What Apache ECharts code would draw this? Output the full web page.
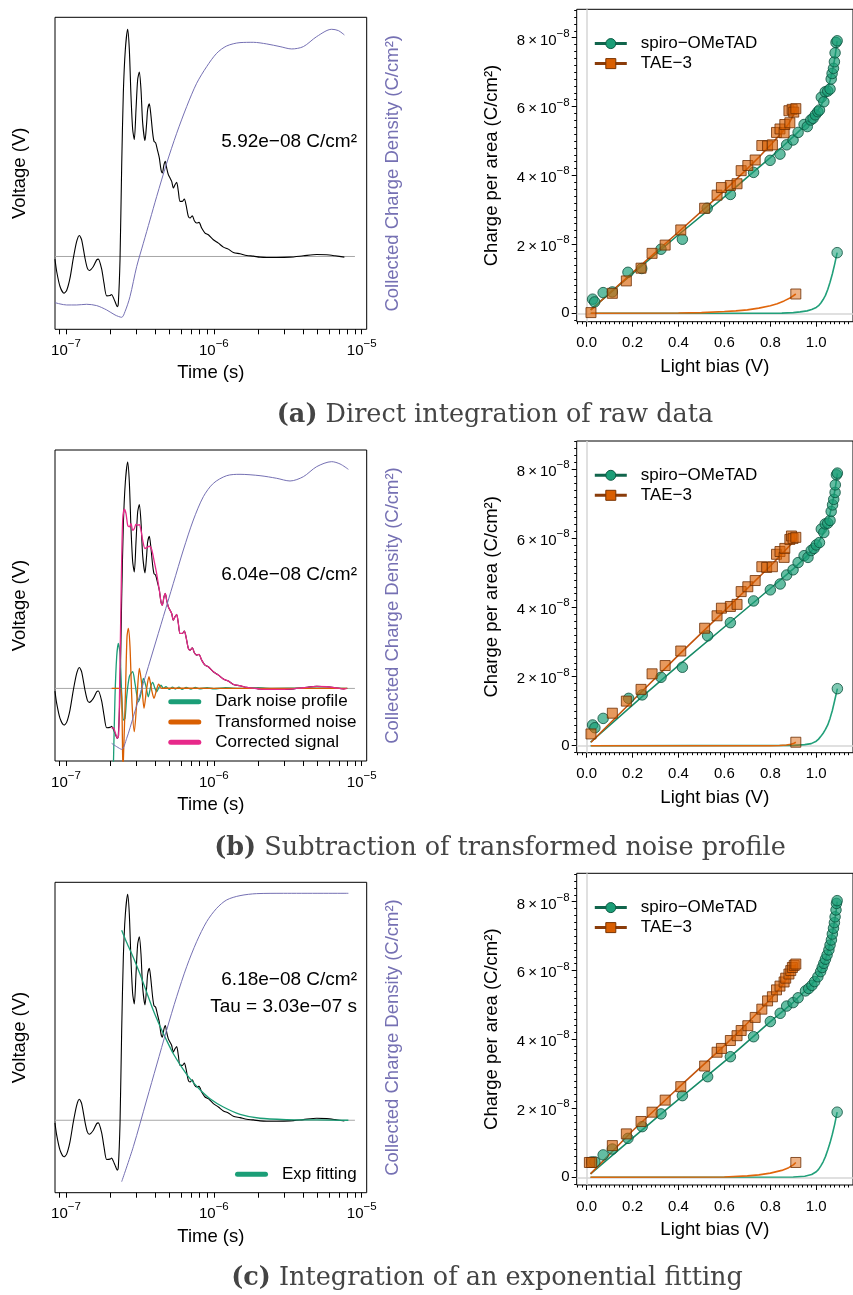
<!DOCTYPE html>
<html>
<head>
<meta charset="utf-8">
<script src="https://cdn.jsdelivr.net/npm/echarts@6.0.0/dist/echarts.min.js"></script>
<style>
  html, body { margin: 0; padding: 0; background: #fff; overflow: hidden; }
  #chart { width: 853px; height: 1295px; }
</style>
</head>
<body>
<div id="chart"></div>
<script>
// ---------- transient traces (time in s, voltage in V) ----------
const rawTrace = [
  [8.42e-8,-0.0008],[8.65e-8,-0.0045],[9.11e-8,-0.0090],[9.69e-8,-0.0110],[1.01e-7,-0.0102],
  [1.064e-7,-0.0065],[1.121e-7,-0.0005],[1.181e-7,0.0045],[1.231e-7,0.0063],[1.276e-7,0.0050],
  [1.344e-7,-0.0005],[1.394e-7,-0.0035],[1.438e-7,-0.0042],[1.531e-7,-0.0030],[1.612e-7,-0.0010],
  [1.654e-7,-0.0008],[1.743e-7,-0.0038],[1.807e-7,-0.0080],[1.884e-7,-0.0118],[1.984e-7,-0.0117],
  [2.036e-7,-0.0114],[2.090e-7,-0.0123],[2.145e-7,-0.0135],[2.224e-7,-0.0150],[2.259e-7,-0.0140],
  [2.319e-7,-0.0010],[2.380e-7,0.0270],[2.442e-7,0.0490],[2.520e-7,0.0620],[2.613e-7,0.0680],
  [2.681e-7,0.0620],[2.752e-7,0.0480],[2.825e-7,0.0380],[2.898e-7,0.0350],[2.975e-7,0.0440],
  [3.053e-7,0.0530],[3.133e-7,0.0552],[3.215e-7,0.0500],[3.300e-7,0.0400],[3.422e-7,0.0347],
  [3.512e-7,0.0400],[3.567e-7,0.0440],[3.661e-7,0.0457],[3.738e-7,0.0430],[3.856e-7,0.0370],
  [3.936e-7,0.0345],[4.040e-7,0.0340],[4.147e-7,0.0320],[4.277e-7,0.0295],[4.390e-7,0.0260],
  [4.482e-7,0.0250],[4.601e-7,0.0275],[4.697e-7,0.0285],[4.796e-7,0.0265],[4.922e-7,0.0245],
  [5.052e-7,0.0235],[5.185e-7,0.0225],[5.321e-7,0.0205],[5.461e-7,0.0215],[5.605e-7,0.0222],
  [5.753e-7,0.0195],[5.903e-7,0.0165],[6.122e-7,0.0165],[6.315e-7,0.0172],[6.481e-7,0.0155],
  [6.722e-7,0.0120],[6.899e-7,0.0115],[7.154e-7,0.0122],[7.380e-7,0.0107],[7.652e-7,0.0100],
  [7.937e-7,0.0102],[8.270e-7,0.0085],[8.714e-7,0.0070],[9.180e-7,0.0065],[9.923e-7,0.0050],
  [1.073e-6,0.0040],[1.160e-6,0.0028],[1.253e-6,0.0022],[1.355e-6,0.0012],[1.503e-6,0.0008],
  [1.668e-6,0.0003],[1.850e-6,0.0001],[2.053e-6,-0.0002],[2.277e-6,-0.0003],[2.661e-6,-0.0003],
  [3.275e-6,-0.0002],[4.031e-6,0.0002],[4.961e-6,0.0006],[5.800e-6,0.0005],[6.600e-6,0.0002],
  [7.632e-6,-0.0002]
];

// early part of the noise-corrected signal; later it follows the raw trace
const correctedEarly = [
  [2.036e-7,-0.0120],[2.090e-7,-0.0118],[2.145e-7,-0.0130],[2.224e-7,-0.0150],[2.271e-7,-0.0140],
  [2.319e-7,0.0075],[2.367e-7,0.0325],[2.417e-7,0.0505],[2.481e-7,0.0538],[2.546e-7,0.0525],
  [2.613e-7,0.0490],[2.681e-7,0.0485],[2.752e-7,0.0495],[2.825e-7,0.0475],[2.898e-7,0.0480],
  [2.975e-7,0.0493],[3.053e-7,0.0490],[3.133e-7,0.0492],[3.215e-7,0.0475],[3.300e-7,0.0445],
  [3.422e-7,0.0420],[3.567e-7,0.0425],[3.661e-7,0.0427],[3.797e-7,0.0417],[3.936e-7,0.0385],
  [4.103e-7,0.0345]
];
const correctedTail = [[7.916e-6,0.0000]];

const darkNoise = [
  [2.090e-7,-0.0240],[2.145e-7,-0.0025],[2.202e-7,0.0095],[2.259e-7,0.0135],[2.319e-7,0.0105],
  [2.380e-7,-0.0015],[2.442e-7,-0.0095],[2.507e-7,-0.0090],[2.573e-7,-0.0025],[2.681e-7,0.0035],
  [2.825e-7,0.0050],[2.929e-7,0.0015],[3.086e-7,-0.0040],[3.215e-7,-0.0015],[3.334e-7,0.0030],
  [3.458e-7,0.0010],[3.605e-7,-0.0025],[3.738e-7,0.0005],[3.856e-7,0.0018],[3.998e-7,0.0000],
  [4.103e-7,-0.0010],[4.256e-7,0.0003],[4.390e-7,0.0010],[4.553e-7,0.0000],[4.75e-7,0.0005],
  [5.0e-7,-0.0003],[5.25e-7,0.0004],[5.5e-7,-0.0002],[5.8e-7,0.0004],[6.1e-7,-0.0003],
  [6.5e-7,0.0003],[7.0e-7,-0.0002],[7.5e-7,0.0003],[8.0e-7,-0.0001],[9.0e-7,0.0002],
  [1.0e-6,-0.0001],[1.2e-6,0.0002],[1.5e-6,0.0000],[2.0e-6,0.0002],[2.5e-6,0.0000],
  [4.0e-6,0.0001],[8.0e-6,0.0000]
];

const transformedNoise = [
  [2.036e-7,0],[2.343e-7,0],[2.392e-7,-0.0075],[2.430e-7,-0.0250],[2.455e-7,-0.0250],
  [2.520e-7,-0.0025],[2.586e-7,0.0155],[2.640e-7,0.0180],[2.709e-7,0.0125],[2.796e-7,-0.0045],
  [2.898e-7,-0.0130],[3.006e-7,-0.0045],[3.133e-7,0.0060],[3.248e-7,0.0015],[3.370e-7,-0.0060],
  [3.512e-7,0.0000],[3.639e-7,0.0035],[3.797e-7,-0.0005],[3.936e-7,-0.0030],[4.103e-7,-0.0003],
  [4.233e-7,0.0013],[4.436e-7,0.0000],[4.796e-7,0.0001],[1.0e-6,0],[8.0e-6,0]
];

const expFit = [
  [2.380e-7,0.0572],[2.573e-7,0.0535],[2.854e-7,0.0490],[3.166e-7,0.0440],[3.512e-7,0.0385],
  [3.897e-7,0.0330],[4.323e-7,0.0283],[4.796e-7,0.0240],[5.321e-7,0.0200],[6.058e-7,0.0160],
  [6.899e-7,0.0125],[8.060e-7,0.0092],[9.421e-7,0.0065],[1.160e-6,0.0040],[1.503e-6,0.0018],
  [2.053e-6,0.0006],[3.110e-6,0.0002],[4.961e-6,0.0001],[8.125e-6,0]
];
const tauFit = 3.03e-7;

// collected charge density (C/cm²)
const chargeRaw = [
  [8.42e-8,0],[9.11e-8,-2.9e-10],[1.01e-7,-5.2e-10],[1.181e-7,-5.2e-10],[1.379e-7,-3.7e-10],
  [1.612e-7,-6.6e-10],[1.884e-7,-1.62e-9],[2.145e-7,-2.73e-9],[2.380e-7,-3.24e-9],[2.507e-7,-1.99e-9],
  [2.709e-7,1.33e-9],[3.006e-7,7.96e-9],[3.334e-7,1.312e-8],[3.699e-7,1.828e-8],[4.103e-7,2.344e-8],
  [4.796e-7,3.081e-8],[5.605e-7,3.745e-8],[6.549e-7,4.335e-8],[7.652e-7,4.851e-8],[8.944e-7,5.219e-8],
  [1.045e-6,5.514e-8],[1.221e-6,5.676e-8],[1.503e-6,5.750e-8],[1.850e-6,5.757e-8],[2.277e-6,5.721e-8],
  [2.803e-6,5.662e-8],[3.361e-6,5.610e-8],[4.031e-6,5.662e-8],[4.961e-6,5.883e-8],[6.265e-6,6.045e-8],
  [6.955e-6,6.016e-8],[7.632e-6,5.92e-8]
];
const chargeCorrected = [
  [2.036e-7,0],[2.202e-7,-7.3e-10],[2.380e-7,-1.32e-9],[2.573e-7,1.10e-9],[2.854e-7,5.88e-9],
  [3.334e-7,1.323e-8],[3.897e-7,2.057e-8],[4.553e-7,2.792e-8],[5.321e-7,3.527e-8],[6.218e-7,4.262e-8],
  [7.266e-7,4.923e-8],[8.492e-7,5.437e-8],[9.923e-7,5.731e-8],[1.221e-6,5.900e-8],[1.503e-6,5.930e-8],
  [2.053e-6,5.900e-8],[2.661e-6,5.842e-8],[3.275e-6,5.783e-8],[4.031e-6,5.878e-8],[4.961e-6,6.099e-8],
  [6.265e-6,6.209e-8],[7.139e-6,6.158e-8],[8.125e-6,6.04e-8]
];
const chargeFit = [
  [2.380e-7,0],[2.854e-7,7.50e-9],[3.512e-7,1.750e-8],[4.103e-7,2.501e-8],[4.796e-7,3.251e-8],
  [5.605e-7,3.965e-8],[6.549e-7,4.608e-8],[7.652e-7,5.144e-8],[8.944e-7,5.573e-8],[1.045e-6,5.859e-8],
  [1.221e-6,6.038e-8],[1.503e-6,6.130e-8],[1.949e-6,6.173e-8],[2.953e-6,6.180e-8],[8.125e-6,6.18e-8]
];

// ---------- charge vs light bias (V, charge in units of 1e-8 C/cm²) ----------
const spiroA = [[0.026,0.41],[0.035,0.33],[0.072,0.60],[0.112,0.62],[0.180,1.19],[0.240,1.30],[0.324,1.86],[0.417,2.15],[0.525,3.05],[0.626,3.45],[0.727,4.09],[0.799,4.44],[0.842,4.62],[0.871,4.89],[0.899,5.03],[0.921,5.25],[0.947,5.48],[0.961,5.42],[0.976,5.61],[0.986,5.66],[0.996,5.76],[1.007,5.85],[1.014,5.90],[1.022,6.27],[1.033,6.14],[1.039,6.43],[1.050,6.45],[1.060,6.51],[1.065,6.80],[1.069,6.96],[1.075,7.11],[1.079,7.30],[1.082,7.56],[1.086,7.86],[1.091,7.91]];
const spiroLowA = [[1.091,1.76]];
const spiroFitA = [[0.017,0.10],[0.2,1.15],[0.4,2.28],[0.6,3.38],[0.7,3.95],[0.8,4.52],[0.85,4.82],[0.9,5.13],[0.95,5.45],[0.98,5.66],[1.0,5.82],[1.02,6.03],[1.03,6.16],[1.04,6.32],[1.05,6.52],[1.06,6.75],[1.07,7.03],[1.08,7.38],[1.085,7.6],[1.091,7.9]];
const spiroExpA = [[0.017,0],[0.85,0.005],[0.9,0.02],[0.93,0.04],[0.96,0.07],[0.98,0.11],[1.0,0.17],[1.01,0.22],[1.02,0.3],[1.03,0.4],[1.04,0.52],[1.05,0.69],[1.06,0.9],[1.07,1.14],[1.08,1.42],[1.091,1.76]];
const taeA = [[0.019,0.02],[0.112,0.58],[0.173,0.94],[0.237,1.31],[0.285,1.74],[0.342,1.98],[0.410,2.42],[0.514,3.05],[0.568,3.43],[0.587,3.65],[0.626,3.71],[0.655,3.76],[0.673,4.14],[0.702,4.29],[0.734,4.45],[0.763,4.87],[0.788,4.86],[0.809,4.89],[0.827,5.25],[0.842,5.35],[0.860,5.24],[0.863,5.48],[0.885,5.53],[0.881,5.88],[0.895,5.92],[0.902,5.84],[0.911,5.94]];
const taeLowA = [[0.911,0.56]];
const taeFitA = [[0.019,0.10],[0.2,1.18],[0.4,2.36],[0.6,3.56],[0.7,4.2],[0.75,4.53],[0.8,4.88],[0.85,5.25],[0.88,5.5],[0.9,5.75],[0.911,5.95]];
const taeExpA = [[0.019,0],[0.4,0.01],[0.5,0.02],[0.6,0.05],[0.65,0.07],[0.7,0.1],[0.75,0.15],[0.8,0.22],[0.83,0.28],[0.86,0.36],[0.89,0.46],[0.911,0.56]];

const spiroB = [[0.026,0.60],[0.036,0.52],[0.072,0.79],[0.183,1.37],[0.242,1.47],[0.324,1.98],[0.417,2.27],[0.527,3.18],[0.626,3.56],[0.727,4.19],[0.800,4.51],[0.843,4.68],[0.871,4.94],[0.899,5.09],[0.921,5.30],[0.947,5.50],[0.964,5.45],[0.978,5.65],[0.990,5.71],[1.000,5.81],[1.014,5.88],[1.022,6.27],[1.033,6.17],[1.039,6.42],[1.050,6.44],[1.060,6.52],[1.065,6.78],[1.071,6.97],[1.076,7.13],[1.082,7.33],[1.083,7.55],[1.088,7.84],[1.092,7.89]];
const spiroLowB = [[1.092,1.65]];
const spiroFitB = [[0.017,0.10],[0.242,1.42],[0.417,2.42],[0.626,3.58],[0.8,4.55],[0.9,5.12],[0.95,5.43],[0.98,5.64],[1.0,5.8],[1.02,6.01],[1.03,6.14],[1.04,6.3],[1.05,6.49],[1.06,6.72],[1.07,7.0],[1.08,7.35],[1.086,7.6],[1.092,7.88]];
const spiroExpB = [[0.017,0],[0.9,0.01],[0.95,0.03],[0.978,0.06],[1.0,0.13],[1.01,0.19],[1.02,0.27],[1.03,0.36],[1.04,0.47],[1.05,0.6],[1.06,0.79],[1.07,1.02],[1.08,1.3],[1.092,1.65]];
const taeB = [[0.019,0.34],[0.112,0.94],[0.173,1.29],[0.237,1.63],[0.285,2.08],[0.342,2.32],[0.410,2.74],[0.514,3.40],[0.568,3.76],[0.587,3.98],[0.626,4.03],[0.655,4.09],[0.673,4.46],[0.702,4.60],[0.734,4.78],[0.763,5.18],[0.784,5.16],[0.809,5.18],[0.827,5.54],[0.842,5.62],[0.860,5.45],[0.863,5.71],[0.885,5.97],[0.892,6.07],[0.899,6.00],[0.911,6.03]];
const taeLowB = [[0.911,0.10]];
const taeFitB = [[0.019,0.10],[0.2,1.3],[0.4,2.62],[0.6,3.9],[0.8,5.2],[0.9,5.9],[0.911,6.0]];
const taeExpB = [[0.019,0],[0.8,0.0],[0.84,0.005],[0.87,0.02],[0.89,0.04],[0.9,0.06],[0.911,0.10]];

const spiroC = [[0.022,0.445],[0.036,0.445],[0.072,0.65],[0.112,0.82],[0.180,1.13],[0.242,1.47],[0.324,1.84],[0.417,2.37],[0.527,2.92],[0.626,3.50],[0.727,4.08],[0.800,4.52],[0.843,4.76],[0.871,4.97],[0.899,5.07],[0.921,5.21],[0.953,5.41],[0.967,5.48],[0.981,5.57],[0.993,5.68],[1.007,5.82],[1.019,5.97],[1.026,6.09],[1.033,6.21],[1.040,6.33],[1.047,6.45],[1.055,6.60],[1.060,6.74],[1.066,6.89],[1.070,7.06],[1.075,7.23],[1.079,7.39],[1.082,7.56],[1.086,7.76],[1.088,7.95],[1.091,8.03]];
const spiroLowC = [[1.091,1.89]];
const spiroFitC = [[0.017,0.10],[0.324,1.84],[0.626,3.5],[0.8,4.52],[0.9,5.08],[0.95,5.4],[0.98,5.6],[1.0,5.76],[1.02,6.0],[1.03,6.15],[1.04,6.33],[1.05,6.54],[1.06,6.78],[1.07,7.07],[1.08,7.44],[1.086,7.7],[1.091,8.0]];
const spiroExpC = [[0.017,0],[0.9,0.01],[0.95,0.03],[0.98,0.08],[1.0,0.16],[1.01,0.23],[1.02,0.33],[1.03,0.45],[1.04,0.6],[1.05,0.79],[1.06,1.0],[1.07,1.25],[1.08,1.53],[1.091,1.89]];
const taeC = [[0.012,0.43],[0.022,0.43],[0.112,0.92],[0.173,1.26],[0.237,1.62],[0.285,1.89],[0.342,2.24],[0.410,2.63],[0.514,3.23],[0.568,3.63],[0.587,3.74],[0.626,3.97],[0.655,4.11],[0.673,4.26],[0.702,4.40],[0.734,4.64],[0.763,4.88],[0.788,5.12],[0.809,5.24],[0.827,5.44],[0.842,5.55],[0.860,5.67],[0.867,5.78],[0.881,5.90],[0.889,6.00],[0.896,6.09],[0.904,6.15],[0.911,6.19]];
const taeLowC = [[0.911,0.43]];
const taeFitC = [[0.017,0.10],[0.2,1.35],[0.4,2.6],[0.6,3.82],[0.7,4.47],[0.8,5.17],[0.85,5.55],[0.9,6.05],[0.911,6.19]];
const taeExpC = [[0.017,0],[0.6,0.01],[0.7,0.04],[0.75,0.07],[0.8,0.12],[0.85,0.2],[0.88,0.28],[0.9,0.36],[0.911,0.43]];

// ---------- axes ----------
const timeDecades = [-7, -6, -5];            // exponents of labelled decades
const timeMinorMultipliers = [2, 3, 4, 5, 6, 7, 8, 9];
const biasTicks = [0, 0.2, 0.4, 0.6, 0.8, 1.0];
const chargeTicks = [0, 2, 4, 6, 8];         // × 1e-8 C/cm²
const captions = [
  ['(a)', 'Direct integration of raw data'],
  ['(b)', 'Subtraction of transformed noise profile'],
  ['(c)', 'Integration of an exponential fitting']
];

const FONT = '"Liberation Sans", Arial, Helvetica, sans-serif';
const SERIF = '"DejaVu Serif", "Liberation Serif", serif';
const PURPLE = '#7570b3', GREEN = '#1b9e77', ORANGE = '#d95f02', PINK = '#e7298a';

const T_LOG_MIN = -7.0744, T_LOG_MAX = -4.9662;
const voltRange = [-0.0218, 0.0716];
const baselineSpan = [8.42e-8, 9.0e-6];
const biasRange = [-0.0432, 1.16];

const timeTickValues = [];
[-8, -7, -6, -5].forEach(n => {
  [1].concat(timeMinorMultipliers).forEach(k => {
    const v = n + Math.log10(k);
    if (v >= T_LOG_MIN && v <= T_LOG_MAX) timeTickValues.push(v);
  });
});
const biasMinor = [];
for (let i = -2; i <= 57; i++) if (i % 10 !== 0) biasMinor.push(+(i * 0.02).toFixed(2));
const chargeMinor = [];
for (let i = -1; i <= 44; i++) if (i % 10 !== 0) chargeMinor.push(+(i * 0.2).toFixed(1));

function sciLabel(v) {
  const e = Math.floor(Math.log10(Math.abs(v)) + 1e-9);
  const m = (v / Math.pow(10, e)).toFixed(2);
  return m + 'e' + (e < 0 ? '−' : '+') + String(Math.abs(e)).padStart(2, '0');
}
const lastY = arr => arr[arr.length - 1][1];
const toLog = arr => arr.map(p => [Math.log10(p[0]), p[1]]);

const titleStyle = { fontFamily: FONT, fontSize: 18.5, color: '#000' };
const tickRich = {
  b: { fontFamily: FONT, fontSize: 15, color: '#000', verticalAlign: 'bottom' },
  s: { fontFamily: FONT, fontSize: 11.5, color: '#000', verticalAlign: 'bottom', padding: [0, 0, 8.5, 0] }
};
const hiddenLine = { show: false, onZero: false };

const grid = [], xAxis = [], yAxis = [], series = [], legend = [], graphic = [];

function addLeftPanel(p) {
  const g = grid.length;
  grid.push({ left: 55, top: p.top, width: 311.7, height: p.height, show: true, borderColor: '#000', borderWidth: 1 });
  const xi = xAxis.length;
  xAxis.push({
    type: 'value', gridIndex: g, position: 'bottom', min: T_LOG_MIN, max: T_LOG_MAX,
    axisLine: hiddenLine, splitLine: { show: false },
    axisTick: { show: true, customValues: timeTickValues, length: 5, lineStyle: { color: '#000', width: 1 } },
    axisLabel: { show: true, customValues: timeDecades, margin: 8.5,
      formatter: v => '{b|10}{s|−' + Math.round(-v) + '}', rich: tickRich },
    name: 'Time (s)', nameLocation: 'middle', nameGap: 34.4, nameTextStyle: titleStyle
  });
  const yv = yAxis.length;
  yAxis.push({
    type: 'value', gridIndex: g, position: 'left', min: voltRange[0], max: voltRange[1],
    axisLine: hiddenLine, axisTick: { show: false }, axisLabel: { show: false }, splitLine: { show: false },
    name: 'Voltage (V)', nameLocation: 'middle', nameRotate: 90, nameGap: 25.7, nameTextStyle: titleStyle
  });
  yAxis.push({
    type: 'value', gridIndex: g, position: 'right', min: p.chargeRange[0], max: p.chargeRange[1],
    axisLine: hiddenLine, axisTick: { show: false }, axisLabel: { show: false }, splitLine: { show: false },
    name: 'Collected Charge Density (C/cm²)', nameLocation: 'middle', nameRotate: 90, nameGap: 17,
    nameTextStyle: Object.assign({}, titleStyle, { color: PURPLE })
  });
  const line = (name, data, color, width, yi, z, smooth) => ({
    type: 'line', name, xAxisIndex: xi, yAxisIndex: yi, data: toLog(data),
    symbol: 'none', smooth: smooth, lineStyle: { color, width }, itemStyle: { color },
    z, silent: true, animation: false
  });
  series.push(line('zero level', baselineSpan.map(t => [t, 0]), '#a6a6a6', 1, yv, 1, false));
  series.push(line('raw transient', rawTrace, '#000', 1.1, yv, 2, 0.25));
  p.extra.forEach(s => series.push(line(s.name, s.data, s.color, 1.3, yv, 3, 0.25)));
  series.push(line('collected charge', p.charge, PURPLE, 1, yv + 1, 4, 0.3));

  graphic.push({
    type: 'text', x: 357, y: p.labelY, silent: true,
    style: { text: sciLabel(lastY(p.charge)) + ' C/cm²', fontFamily: FONT, fontSize: 19, fill: '#000',
      align: 'right', verticalAlign: 'middle' }
  });
  if (p.tau) {
    graphic.push({
      type: 'text', x: 357, y: p.labelY + 27.4, silent: true,
      style: { text: 'Tau = ' + sciLabel(p.tau) + ' s', fontFamily: FONT, fontSize: 19, fill: '#000',
        align: 'right', verticalAlign: 'middle' }
    });
  }
  if (p.legend) legend.push(p.legend);
}

function addRightPanel(p) {
  const g = grid.length;
  grid.push({ left: 576.7, top: p.top, width: 278.7, height: p.height, show: true, borderColor: '#000', borderWidth: 1 });
  const xi = xAxis.length;
  xAxis.push({
    type: 'value', gridIndex: g, position: 'bottom', min: biasRange[0], max: biasRange[1],
    axisLine: hiddenLine, splitLine: { show: false },
    axisTick: { show: true, customValues: biasTicks, length: 5, lineStyle: { color: '#000' } },
    axisLabel: { show: true, customValues: biasTicks, margin: 14, fontFamily: FONT, fontSize: 15, color: '#000',
      formatter: v => v.toFixed(1) },
    name: 'Light bias (V)', nameLocation: 'middle', nameGap: 35.7, nameTextStyle: titleStyle
  });
  xAxis.push({
    type: 'value', gridIndex: g, position: 'bottom', min: biasRange[0], max: biasRange[1],
    axisLine: hiddenLine, splitLine: { show: false }, axisLabel: { show: false },
    axisTick: { show: true, customValues: biasMinor, length: 2.5, lineStyle: { color: '#000' } }
  });
  const yi = yAxis.length;
  yAxis.push({
    type: 'value', gridIndex: g, position: 'left', min: p.yRange[0], max: p.yRange[1],
    axisLine: hiddenLine, splitLine: { show: false },
    axisTick: { show: true, customValues: chargeTicks, length: 5, lineStyle: { color: '#000' } },
    axisLabel: { show: true, customValues: chargeTicks, margin: 7,
      formatter: v => v === 0 ? '{b|0}' : '{b|' + v + '\u2009×\u200910}{s|−8}', rich: tickRich },
    name: 'Charge per area (C/cm²)', nameLocation: 'middle', nameRotate: 90, nameGap: 75.7, nameTextStyle: titleStyle
  });
  yAxis.push({
    type: 'value', gridIndex: g, position: 'left', min: p.yRange[0], max: p.yRange[1],
    axisLine: hiddenLine, splitLine: { show: false }, axisLabel: { show: false },
    axisTick: { show: true, customValues: chargeMinor, length: 2.5, lineStyle: { color: '#000' } }
  });
  const fit = (name, data, color, symbol, z) => ({
    type: 'line', name, xAxisIndex: xi, yAxisIndex: yi, data, symbol, showSymbol: false,
    smooth: false, lineStyle: { color, width: 1.6 }, itemStyle: { color },
    z, silent: true, animation: false
  });
  const pts = (name, data, symbol, size, fill, border, z) => ({
    type: 'scatter', name, xAxisIndex: xi, yAxisIndex: yi, data, symbol, symbolSize: size,
    itemStyle: { color: fill, borderColor: border, borderWidth: 1 }, z, silent: true, animation: false
  });
  const exp1 = fit('spiro exponential part', p.spiroExp, '#22a07a', 'none', 2);
  exp1.markLine = {
    silent: true, symbol: ['none', 'none'], z: 1, animation: false, label: { show: false },
    lineStyle: { color: '#d6d6d6', width: 1.5, type: 'solid' },
    data: [{ xAxis: 0 }, { yAxis: 0 }]
  };
  series.push(exp1);
  series.push(fit('TAE exponential part', p.taeExp, '#e0660c', 'none', 2));
  series.push(fit('spiro−OMeTAD', p.spiroFit, '#178b67', 'circle', 3));
  series.push(fit('TAE−3', p.taeFit, '#c3540c', 'rect', 3));
  series.push(pts('spiro data', p.spiro, 'circle', 10.5, 'rgba(27,158,119,0.85)', '#0a4f3b', 4));
  series.push(pts('spiro low', p.spiroLow, 'circle', 10.5, 'rgba(27,158,119,0.7)', '#0a4f3b', 4));
  series.push(pts('TAE data', p.tae, 'rect', 10, 'rgba(217,95,2,0.8)', '#6e2e03', 5));
  series.push(pts('TAE low', p.taeLow, 'rect', 10, 'rgba(217,95,2,0.6)', '#6e2e03', 5));

  legend.push({
    left: 593.3, top: p.top + 24.3, orient: 'vertical', padding: 0, itemGap: 0,
    itemWidth: 32, itemHeight: 12.5, selectedMode: false,
    textStyle: { fontFamily: FONT, fontSize: 17, color: '#000', lineHeight: 20, padding: [0, 0, 0, 9] },
    data: [
      { name: 'spiro−OMeTAD', itemStyle: { color: GREEN, borderColor: '#0b5a43', borderWidth: 1 },
        lineStyle: { color: '#11654c', width: 3 } },
      { name: 'TAE−3', itemStyle: { color: ORANGE, borderColor: '#7a3300', borderWidth: 1 },
        lineStyle: { color: '#8a3c0a', width: 3 } }
    ]
  });
}

const CAPSULE = 'path://M2.5,0H30.5A2.5,2.5,0,0,1,30.5,5H2.5A2.5,2.5,0,0,1,2.5,0Z';
const lineLegend = (left, top, names) => ({
  left, top, orient: 'vertical', padding: 0, itemGap: 0, itemWidth: 33, itemHeight: 5,
  icon: CAPSULE, selectedMode: false,
  textStyle: { fontFamily: FONT, fontSize: 17, color: '#000', lineHeight: 20.3, padding: [0, 0, 0, 9] },
  data: names
});

addLeftPanel({ top: 17.3, height: 312, chargeRange: [-5.90e-9, 6.31e-8], charge: chargeRaw,
  labelY: 141.7, extra: [] });
addLeftPanel({ top: 450, height: 311, chargeRange: [-3.89e-9, 6.466e-8], charge: chargeCorrected,
  labelY: 575, extra: [
    { name: 'Dark noise profile', data: darkNoise, color: GREEN },
    { name: 'Transformed noise', data: transformedNoise, color: ORANGE },
    { name: 'Corrected signal', data: correctedEarly.concat(rawTrace.filter(p => p[0] > 4.15e-7), correctedTail), color: PINK }
  ],
  legend: lineLegend(168.3, 691.5, ['Dark noise profile', 'Transformed noise', 'Corrected signal']) });
addLeftPanel({ top: 882.3, height: 310.4, chargeRange: [-2.36e-9, 6.416e-8], charge: chargeFit,
  labelY: 979.3, tau: tauFit, extra: [{ name: 'Exp fitting', data: expFit, color: GREEN }],
  legend: lineLegend(235, 1164, ['Exp fitting']) });

addRightPanel({ top: 9.3, height: 312.4, yRange: [-0.244, 8.824],
  spiro: spiroA, spiroLow: spiroLowA, spiroFit: spiroFitA, spiroExp: spiroExpA,
  tae: taeA, taeLow: taeLowA, taeFit: taeFitA, taeExp: taeExpA });
addRightPanel({ top: 441, height: 311.7, yRange: [-0.203, 8.819],
  spiro: spiroB, spiroLow: spiroLowB, spiroFit: spiroFitB, spiroExp: spiroExpB,
  tae: taeB, taeLow: taeLowB, taeFit: taeFitB, taeExp: taeExpB });
addRightPanel({ top: 873.3, height: 311.7, yRange: [-0.224, 8.824],
  spiro: spiroC, spiroLow: spiroLowC, spiroFit: spiroFitC, spiroExp: spiroExpC,
  tae: taeC, taeLow: taeLowC, taeFit: taeFitC, taeExp: taeExpC });

// sub-figure captions
const captionPos = [[495, 415], [500, 848], [487, 1278]];
captions.forEach((c, i) => {
  graphic.push({
    type: 'text', x: captionPos[i][0], y: captionPos[i][1], silent: true,
    style: {
      text: '{b|' + c[0] + '} {r|' + c[1] + '}', align: 'center', verticalAlign: 'middle',
      fontFamily: SERIF, fontSize: 25.5, fill: '#444',
      rich: {
        b: { fontFamily: SERIF, fontSize: 25.5, fontWeight: 'bold', fill: '#444', color: '#444' },
        r: { fontFamily: SERIF, fontSize: 25.5, fill: '#444', color: '#444' }
      }
    }
  });
});

const chart = echarts.init(document.getElementById('chart'), null, { renderer: 'canvas' });
chart.setOption({
  backgroundColor: '#fff',
  animation: false,
  grid, xAxis, yAxis, series, legend, graphic
});
</script>
</body>
</html>
